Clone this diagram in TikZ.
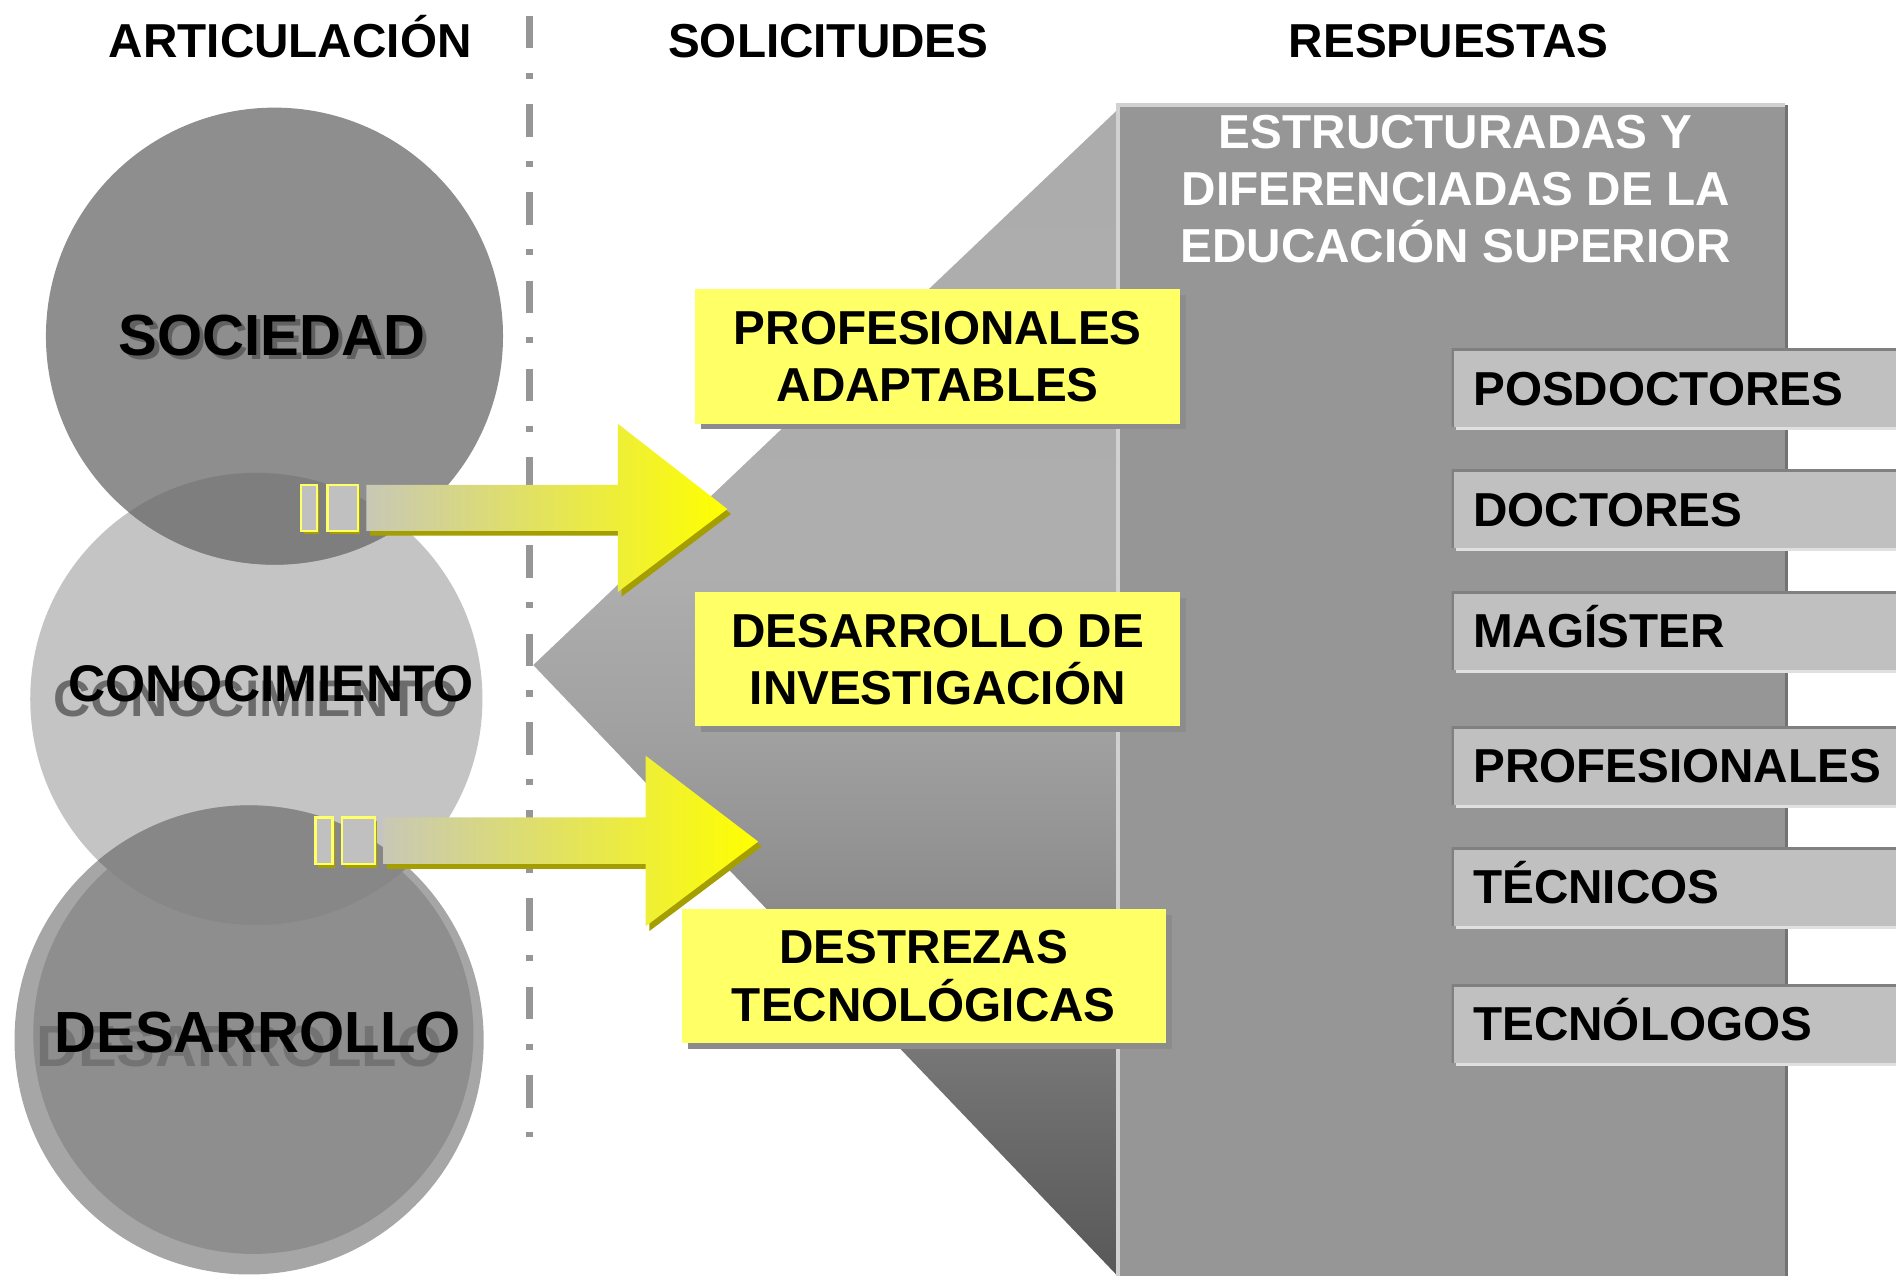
\documentclass[tikz,border=0pt]{standalone}
\usepackage{fontspec}
\setmainfont{Liberation Sans}
\usetikzlibrary{shadows}
\definecolor{boxyellow}{RGB}{255,255,102}
\definecolor{boxgray}{RGB}{192,192,192}
\definecolor{panelgray}{RGB}{150,150,150}
\definecolor{olivedark}{RGB}{165,158,0}
\definecolor{arrowgray}{RGB}{200,200,182}
\definecolor{dashgray}{RGB}{150,150,150}
\definecolor{circdark}{RGB}{142,142,142}
\definecolor{circlight}{RGB}{196,196,196}
\definecolor{circbot}{RGB}{166,166,166}
\definecolor{lensdark}{RGB}{126,126,126}
\definecolor{funlight}{RGB}{172,172,172}
\definecolor{funmid}{RGB}{174,174,174}
\definecolor{funfour}{RGB}{160,160,160}
\definecolor{funthree}{RGB}{143,143,143}
\definecolor{funtwo}{RGB}{106,106,106}
\definecolor{fundark}{RGB}{88,88,88}
\pgfdeclareverticalshading{funnelshade}{100bp}{color(0bp)=(fundark); color(25bp)=(fundark);
  color(31bp)=(funtwo); color(42bp)=(funthree); color(48bp)=(funfour); color(55bp)=(funmid);
  color(75bp)=(funlight); color(100bp)=(funlight)}

\begin{document}
\begin{tikzpicture}[x=0.5pt, y=-0.5pt,
  every node/.style={font=\bfseries\fontsize{19.7}{23.65}\selectfont, inner sep=0pt},
  clabel/.style={anchor=base, font=\bfseries\fontsize{24}{28}\selectfont},
  ybox/.style={fill=boxyellow, minimum width=200.5pt, minimum height=55.5pt, align=center,
    drop shadow={shadow xshift=2.5pt, shadow yshift=-2.25pt, fill=black!45, opacity=1}},
  gbox/.style={anchor=north west, fill=boxgray, minimum height=32.5pt, text width=175pt,
    align=left, inner xsep=9pt, text height=14.1pt, text depth=0pt,
    drop shadow={shadow xshift=2pt, shadow yshift=-1.25pt, fill=black!12, opacity=1},
    path picture={\draw[black!50, line width=2pt] (path picture bounding box.south west)
      |- (path picture bounding box.north east);}}]
  \useasboundingbox (0,0) rectangle (1568,1055);

  % circles
  \node [circle, fill=circlight, minimum size=187pt] (con) at (212,578) {};
  \node [circle, fill=circdark, minimum size=189pt] (soc) at (227,278) {};
  \begin{scope}
    \clip (soc.center) circle (94.5pt);
    \fill [lensdark] (con.center) circle (93.5pt);
  \end{scope}
  \node [circle, fill=circbot, minimum size=194pt] (des) at (206,860) {};
  \fill [circdark] (209.5,855) circle (91pt);
  \begin{scope}
    \clip (des.center) circle (97pt);
    \fill [black!47] (con.center) circle (93.5pt);
  \end{scope}

  \node [clabel, black!62] (socs) at (228.5,297.2) {SOCIEDAD};
  \node [clabel] (socl) at (225,293.7) {SOCIEDAD};
  \node [clabel, font=\bfseries\fontsize{21.3}{25}\selectfont, black!58] (cons) at (211.8,592.6) {CONOCIMIENTO};
  \node [clabel, font=\bfseries\fontsize{21.3}{25}\selectfont] (conl) at (224.3,580) {CONOCIMIENTO};
  \node [clabel, black!55] (dess) at (198,882) {DESARROLLO};
  \node [clabel] (desl) at (213,870) {DESARROLLO};

  % separator
  \draw [dashgray, line width=3pt, dash pattern=on 13.5pt off 10pt on 2.5pt off 10.5pt]
    (438,13) -- (438,940);

  % funnel and panel
  \shade [shading=funnelshade] (441,550) -- (925,90) -- (925,1056) -- cycle;
  \node [fill=panelgray, anchor=north west, minimum width=275.5pt, minimum height=490pt] (panel) at (924.5,87) {};
  \draw [black!18, line width=1.5pt] (panel.south west) |- (panel.north east);
  \draw [black!55, line width=1.5pt] ([xshift=0.5pt]panel.north east) -- ([xshift=0.5pt]panel.south east);
  \node [white, align=center] (ptitle) at (1204,156.3) {ESTRUCTURADAS Y\\DIFERENCIADAS DE LA\\EDUCACIÓN SUPERIOR};

  % headers
  \node [anchor=base] (harti) at (240,47.3) {ARTICULACIÓN};
  \node [anchor=base] (hsoli) at (685,47.3) {SOLICITUDES};
  \node [anchor=base] (hresp) at (1198,47.3) {RESPUESTAS};

  % solicitudes
  \node [ybox] (adap) at (775.5,294.8) {PROFESIONALES\\ADAPTABLES};
  \node [ybox] (inve) at (775.5,545.3) {DESARROLLO DE\\INVESTIGACIÓN};
  \node [ybox, minimum width=200pt] (destr) at (764,807.3) {DESTREZAS\\TECNOLÓGICAS};

  % respuestas
  \node [gbox] (posd) at (1200,288) {POSDOCTORES};
  \node [gbox] (doct) at (1200,388) {DOCTORES};
  \node [gbox] (magi) at (1200,488.5) {MAGÍSTER};
  \node [gbox] (prof) at (1200,600.5) {PROFESIONALES};
  \node [gbox] (tecn) at (1200,700.5) {TÉCNICOS};
  \node [gbox] (tecg) at (1200,813.7) {TECNÓLOGOS};

  % arrows
  \fill [olivedark, shift={(3,4)}] (303,401) -- (511,401) -- (511,350.5) -- (601.5,421)
    -- (511,489.5) -- (511,439) -- (303,439) -- cycle;
  \shade [left color=arrowgray, right color=yellow] (303,401) -- (511,401) -- (511,350.5)
    -- (601.5,421) -- (511,489.5) -- (511,439) -- (303,439) -- cycle;
  \fill [olivedark, shift={(2,3)}] (249,401) rectangle (262,439);
  \filldraw [fill=boxgray, draw=boxyellow, line width=1pt] (249,401) rectangle (262,439);
  \fill [olivedark, shift={(2,3)}] (271,401) rectangle (296,439);
  \filldraw [fill=boxgray, draw=boxyellow, line width=1pt] (271,401) rectangle (296,439);

  \fill [olivedark, shift={(3,4)}] (317,676) -- (534,676) -- (534,625) -- (627,696)
    -- (534,766) -- (534,714.5) -- (317,714.5) -- cycle;
  \shade [left color=arrowgray, right color=yellow] (317,676) -- (534,676) -- (534,625)
    -- (627,696) -- (534,766) -- (534,714.5) -- (317,714.5) -- cycle;
  \fill [olivedark, shift={(2,3)}] (261,676) rectangle (275,714.5);
  \filldraw [fill=boxgray, draw=boxyellow, line width=1pt] (261,676) rectangle (275,714.5);
  \fill [olivedark, shift={(2,3)}] (283,676) rectangle (310,714.5);
  \filldraw [fill=boxgray, draw=boxyellow, line width=1pt] (283,676) rectangle (310,714.5);
\end{tikzpicture}
\end{document}
